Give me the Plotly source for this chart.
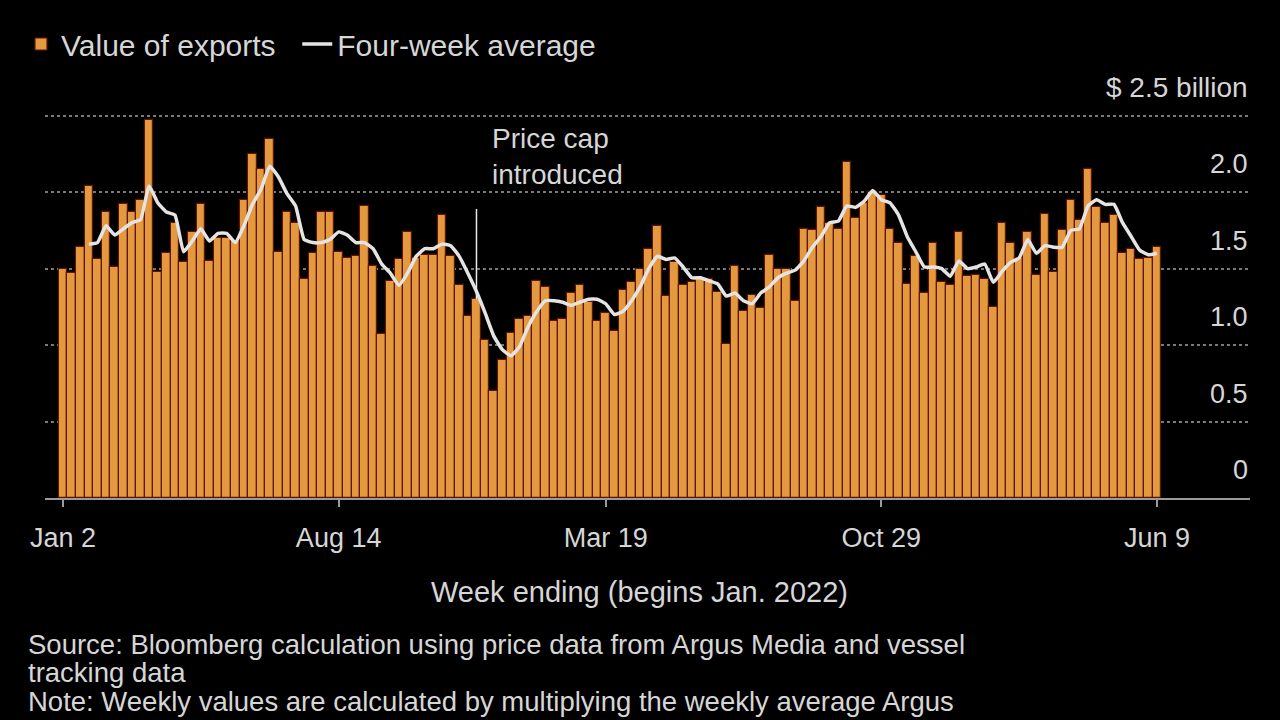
import plotly.graph_objects as go
import pandas as pd

# ---------------- data ----------------
first_week = "2022-01-02"
export_values = [
    1.50, 1.47, 1.64, 2.04, 1.56, 1.87, 1.51, 1.92, 1.87, 1.95,
    2.47, 1.48, 1.60, 1.80, 1.54, 1.74, 1.92, 1.55, 1.70, 1.70,
    1.68, 1.95, 2.25, 2.15, 2.35, 1.61, 1.87, 1.80, 1.43, 1.60,
    1.87, 1.87, 1.61, 1.57, 1.58, 1.91, 1.52, 1.07, 1.42, 1.56,
    1.74, 1.57, 1.59, 1.59, 1.85, 1.58, 1.39, 1.19, 1.30, 1.03,
    0.70, 0.90, 1.08, 1.17, 1.19, 1.42, 1.38, 1.16, 1.17, 1.34,
    1.39, 1.28, 1.16, 1.21, 1.09, 1.36, 1.41, 1.50, 1.63, 1.78,
    1.32, 1.54, 1.39, 1.41, 1.43, 1.43, 1.35, 1.01, 1.52, 1.22,
    1.33, 1.24, 1.59, 1.50, 1.50, 1.29, 1.76, 1.75, 1.90, 1.80,
    1.76, 2.20, 1.83, 1.93, 2.00, 1.98, 1.76, 1.67, 1.40, 1.58,
    1.34, 1.67, 1.41, 1.39, 1.74, 1.45, 1.46, 1.43, 1.25, 1.80,
    1.67, 1.57, 1.74, 1.46, 1.86, 1.48, 1.75, 1.95, 1.82, 2.15,
    1.90, 1.80, 1.85, 1.60, 1.63, 1.56, 1.57, 1.64,
]
# four-week average (starts at week 4)
avg_values = [
    1.66, 1.67, 1.78, 1.72, 1.76, 1.80, 1.82, 2.04, 1.93, 1.87,
    1.85, 1.61, 1.68, 1.76, 1.68, 1.73, 1.73, 1.67, 1.78, 1.92,
    2.02, 2.17, 2.10, 1.99, 1.91, 1.69, 1.67, 1.67, 1.69, 1.74,
    1.72, 1.67, 1.67, 1.63, 1.53, 1.47, 1.39, 1.47, 1.58, 1.63,
    1.63, 1.66, 1.65, 1.58, 1.47, 1.35, 1.21, 1.06, 0.97, 0.93,
    0.99, 1.12, 1.22, 1.29, 1.29, 1.28, 1.26, 1.28, 1.30, 1.30,
    1.27, 1.20, 1.22, 1.29, 1.38, 1.50, 1.58, 1.56, 1.57, 1.51,
    1.44, 1.44, 1.42, 1.40, 1.32, 1.34, 1.29, 1.27, 1.34, 1.38,
    1.44, 1.47, 1.49, 1.55, 1.64, 1.71, 1.80, 1.81, 1.91, 1.90,
    1.94, 2.01, 1.95, 1.93, 1.85, 1.71, 1.61, 1.51, 1.51, 1.50,
    1.45, 1.55, 1.50, 1.51, 1.53, 1.41, 1.48, 1.54, 1.57, 1.69,
    1.60, 1.65, 1.64, 1.64, 1.75, 1.76, 1.91, 1.95, 1.92, 1.92,
    1.80, 1.71, 1.62, 1.59, 1.60,
]
tick_dates = ["2022-01-02", "2022-08-14", "2023-03-19", "2023-10-29", "2024-06-09"]
tick_labels = ["Jan 2", "Aug 14", "Mar 19", "Oct 29", "Jun 9"]
y_label_values = [0, 0.5, 1.0, 1.5, 2.0, 2.5]
y_label_texts = ["0", "0.5", "1.0", "1.5", "2.0", "$ 2.5 billion"]
price_cap_week = "2022-12-04"
price_cap_span = [1.30, 1.89]

weeks = pd.date_range(first_week, periods=len(export_values), freq="7D")
avg_weeks = weeks[len(export_values) - len(avg_values):]

# ---------------- layout geometry (pixels) ----------------
W, H = 1280, 720
L, R, T, B = 45, 30, 108, 222
PW, PH = W - L - R, H - T - B


def px_x(px):
    return (px - L) / PW


def px_y(py):
    return (H - B - py) / PH


# ---------------- style ----------------
FONT = "Liberation Sans, Arial, sans-serif"
TXT = "#d6d6d6"
BAR = "#E4993F"
BAR_EDGE = "#5E1608"
LINE = "#E4E4E4"
NBSP = "\u00a0"

fig = go.Figure()
fig.add_trace(go.Bar(
    x=weeks, y=export_values, name="Value of exports" + NBSP * 2,
    marker=dict(color=BAR, line=dict(color=BAR_EDGE, width=1.2)),
))
fig.add_trace(go.Scatter(
    x=avg_weeks, y=avg_values, name="Four-week average", mode="lines",
    line=dict(color=LINE, width=3.5, shape="spline", smoothing=0.4),
))
fig.add_trace(go.Scatter(
    x=[price_cap_week, price_cap_week], y=price_cap_span, mode="lines",
    line=dict(color="#e8e8e8", width=1.5), showlegend=False, hoverinfo="skip",
))

annotations = []
for v, t in zip(y_label_values, y_label_texts):
    annotations.append(dict(
        x=1, xref="paper", y=v, yref="y", text=t, showarrow=False,
        xanchor="right", yanchor="middle", yshift=28,
        font=dict(family=FONT, size=28 if v == 2.5 else 27, color=TXT),
    ))
annotations.append(dict(
    x=price_cap_week, xref="x", y=px_y(156), yref="paper", xshift=14,
    text="Price cap<br>introduced", showarrow=False, xanchor="left", yanchor="middle",
    align="left", font=dict(family=FONT, size=28, color=TXT),
))
annotations.append(dict(
    x=px_x(639), xref="paper", y=px_y(592), yref="paper",
    text="Week ending (begins Jan. 2022)", showarrow=False,
    xanchor="center", yanchor="middle", font=dict(family=FONT, size=29, color=TXT),
))
footer = [
    "Source: Bloomberg calculation using price data from Argus Media and vessel",
    "tracking data",
    "Note: Weekly values are calculated by multiplying the weekly average Argus",
]
for i, line in enumerate(footer):
    annotations.append(dict(
        x=px_x(26), xref="paper", y=px_y(644 + 28.5 * i), yref="paper",
        text=line, showarrow=False, xanchor="left", yanchor="middle",
        font=dict(family=FONT, size=27.5, color=TXT),
    ))

fig.update_layout(
    width=W, height=H,
    paper_bgcolor="black", plot_bgcolor="black",
    margin=dict(l=L, r=R, t=T, b=B),
    bargap=0,
    font=dict(family=FONT, size=27, color=TXT),
    showlegend=True,
    legend=dict(
        orientation="h", xref="container", yref="container",
        x=21 / W, y=1 - 44 / H, xanchor="left", yanchor="middle",
        font=dict(family=FONT, size=30, color=TXT),
        bgcolor="rgba(0,0,0,0)",
    ),
    annotations=annotations,
    xaxis=dict(
        type="date",
        range=["2021-12-18 09:00", "2024-08-23 14:00"],
        tickvals=tick_dates, ticktext=tick_labels,
        ticks="outside", ticklen=7, tickwidth=2, tickcolor="#9a9a9a",
        showline=True, linecolor="#9a9a9a", linewidth=2,
        showgrid=False, zeroline=False,
        tickfont=dict(family=FONT, size=27, color=TXT),
        ticklabelstandoff=8,
    ),
    yaxis=dict(
        range=[0, 2.55], tickvals=[0.5, 1.0, 1.5, 2.0, 2.5],
        showticklabels=False, showgrid=True, gridcolor="#7a7a7a",
        griddash="dot", gridwidth=1.5, zeroline=False, showline=False,
    ),
)

fig.write_html(
    "out.html",
    config={"displayModeBar": False},
    post_script="document.body.style.margin='0px';document.body.style.background='black';",
)
